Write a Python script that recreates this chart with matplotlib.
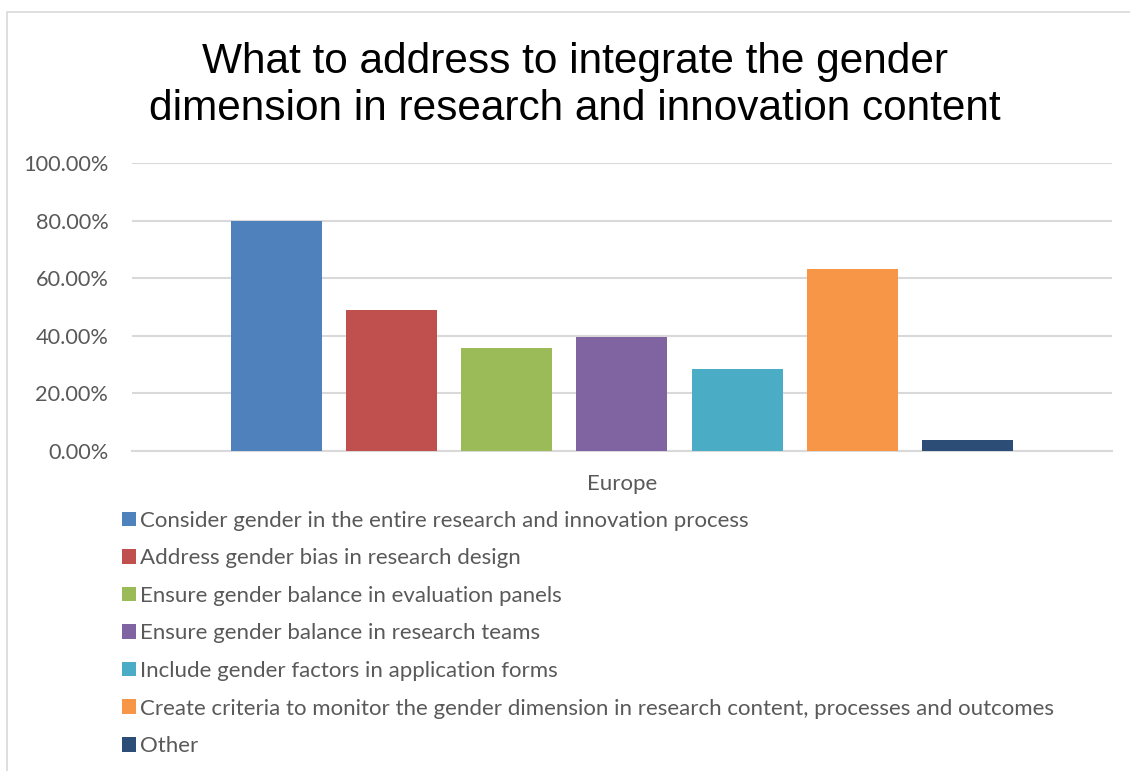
import numpy as np
import matplotlib
matplotlib.use("Agg")
import matplotlib.pyplot as plt
from matplotlib.patches import Patch, Rectangle
from matplotlib.ticker import PercentFormatter

categories = [
    "Consider gender in the entire research and innovation process",
    "Address gender bias in research design",
    "Ensure gender balance in evaluation panels",
    "Ensure gender balance in research teams",
    "Include gender factors in application forms",
    "Create criteria to monitor the gender dimension in research content, processes and outcomes",
    "Other",
]
values = [0.797, 0.489, 0.357, 0.396, 0.284, 0.632, 0.038]
colors = ["#4F81BD", "#C0504D", "#9BBB59", "#8064A2", "#4BACC6", "#F79646", "#2C4D75"]
group_label = "Europe"
title = "What to address to integrate the gender\ndimension in research and innovation content"

fig = plt.figure(figsize=(11.3, 7.71), dpi=100)
ax = fig.add_axes([0.1168, 0.415, 0.8672, 0.3736])

x = np.arange(len(values))
ax.bar(x, values, width=0.79, color=colors, zorder=3)
ax.set_xlim(-1.253, len(values) - 1 + 1.253)
ax.set_ylim(0, 1.0)
ax.set_yticks(np.arange(0, 1.01, 0.2))
ax.yaxis.set_major_formatter(PercentFormatter(1.0, decimals=2))
ax.grid(axis="y", color="#D9D9D9", linewidth=1.5, zorder=0)
for s in ["top", "right", "left"]:
    ax.spines[s].set_visible(False)
ax.spines["bottom"].set_color("#D9D9D9")
ax.spines["bottom"].set_linewidth(1.5)
ax.tick_params(axis="y", length=0, labelsize=15.7, labelcolor="#595959", pad=17)
ax.set_xticks([])
for lab in ax.get_yticklabels():
    lab.set_fontfamily("Lato")
ax.text(0.5, -0.115, group_label, transform=ax.transAxes, ha="center", va="center",
        fontsize=16, color="#595959", fontfamily="Lato")

fig.text(0.509, 0.889, title, ha="center", va="center", fontsize=30.5,
         fontfamily="Liberation Sans", color="black", linespacing=1.2)

handles = [Patch(facecolor=c, edgecolor="none") for c in colors]
fig.legend(handles, categories, loc="upper left", bbox_to_anchor=(122 / 1130, 0.3375),
           frameon=False, handlelength=0.63, handleheight=0.63, borderpad=0,
           borderaxespad=0, handletextpad=0.2, labelspacing=0.79, labelcolor="#595959",
           prop={"family": "Lato", "size": 16})

fig.patches.append(Rectangle((7 / 1130, -0.01), 1.5, 1.01 - 12 / 771, transform=fig.transFigure,
                             fill=False, edgecolor="#D9D9D9", linewidth=1.2))

fig.savefig("out.png", dpi=100, facecolor="white")
